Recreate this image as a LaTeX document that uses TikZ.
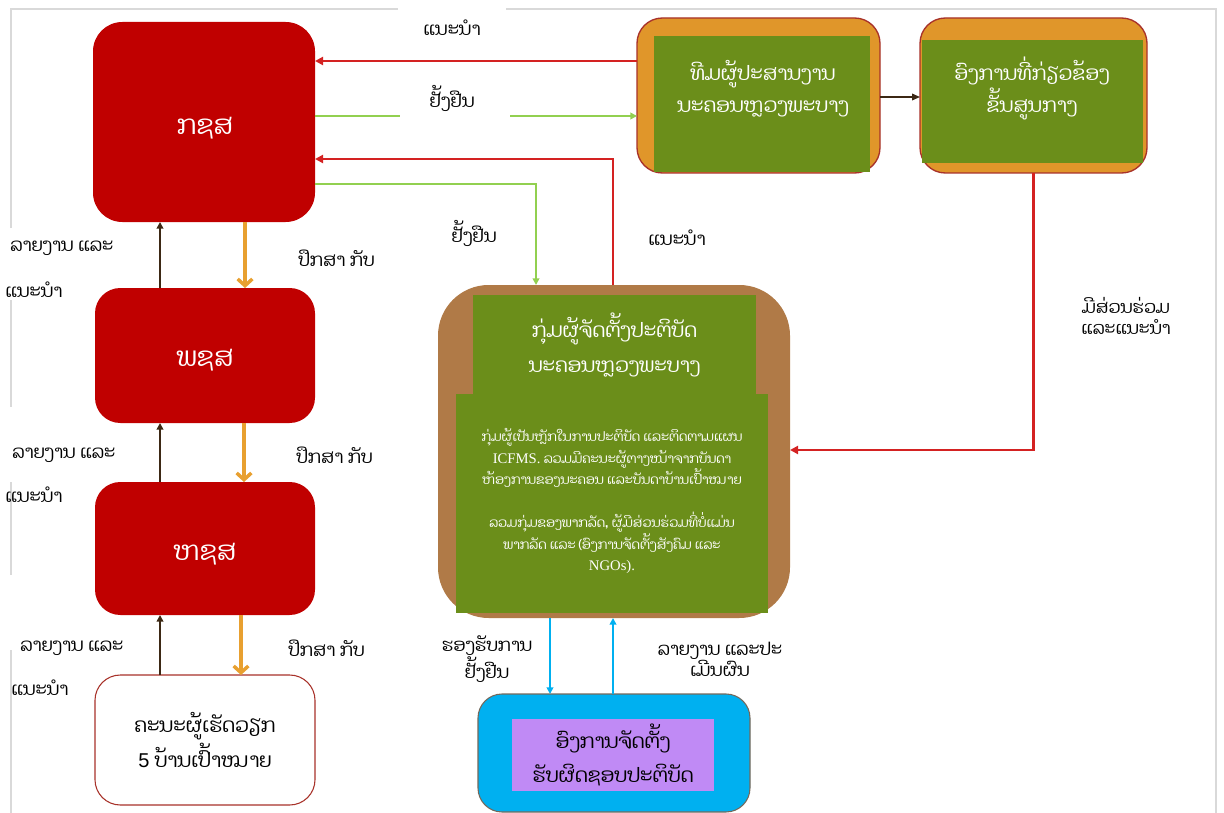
\documentclass[tikz,border=0pt]{standalone}
\usepackage{fontspec}
\usetikzlibrary{arrows.meta}
\setmainfont[Script=Lao]{Dhyana}
\newfontfamily\serifla{Liberation Serif}
\newfontfamily\sansla{Liberation Sans}

\definecolor{boxred}{HTML}{C00000}
\definecolor{linered}{HTML}{D42222}
\definecolor{orangefill}{HTML}{E0962A}
\definecolor{orangeline}{HTML}{E8A030}
\definecolor{leafgreen}{HTML}{6B8E1A}
\definecolor{lightgreen}{HTML}{92D050}
\definecolor{claybrown}{HTML}{B07A47}
\definecolor{darkbrown}{HTML}{3C2814}
\definecolor{skyblue}{HTML}{00B0F0}
\definecolor{lilac}{HTML}{C08AF5}
\definecolor{framegrey}{HTML}{D9D9D9}
\definecolor{darkrim}{HTML}{A8322A}

\begin{document}
\begin{tikzpicture}[x=0.75pt,y=-0.75pt,
  sz/.style 2 args={minimum width=#1*0.75pt, minimum height=#2*0.75pt},
  shape base/.style={rectangle, inner sep=0pt, outer sep=0pt},
  redbox/.style={shape base, fill=boxred, rounded corners=22pt},
  redtext/.style={text=white, inner sep=0pt, font=\fontsize{20}{24}\selectfont},
  orangebox/.style={shape base, fill=orangefill, draw=darkrim, line width=1pt, rounded corners=19pt},
  greenpanel/.style={shape base, fill=leafgreen},
  whitetext/.style={text=white, align=center, inner sep=0pt},
  lbl/.style={font=\fontsize{13.5}{16}\selectfont, text=black, inner sep=0pt, align=center},
  redarrow/.style={draw=linered, line width=1.9pt, -{Triangle[length=6pt,width=6pt]}},
  greenarrow/.style={draw=lightgreen, line width=1.5pt, -{Triangle[length=5pt,width=5pt]}},
  uparrow/.style={draw=darkbrown, line width=1.6pt, -{Triangle[length=5pt,width=5pt]}},
  downarrow/.style={draw=orangeline, line width=2.6pt, -{Straight Barb[length=5pt,width=11pt]}},
  bluearrow/.style={draw=skyblue, line width=1.6pt, -{Triangle[length=5pt,width=5pt]}},
  frameline/.style={draw=framegrey, line width=1.2pt}
]
\useasboundingbox (0,0) rectangle (1224,813);
\fill[white] (0,0) rectangle (1224,813);

% outer frame, broken where labels sit
\draw[frameline] (11,228) -- (11,9) -- (398,9);
\draw[frameline] (506,9) -- (1216,9) -- (1216,813);
\draw[frameline] (11,300) -- (11,407);
\draw[frameline] (11,482) -- (11,575);
\draw[frameline] (11,650) -- (11,813);

% left column
\node[redbox, sz={222}{200}] (kss) at (204,122) {};
\node[redtext] (ksstxt) at (205,128) {ກຊສ};
\node[redbox, sz={220}{135}, rounded corners=19pt] (pss) at (205,355.5) {};
\node[redtext] (psstxt) at (205,360) {ພຊສ};
\node[redbox, sz={220}{133}, rounded corners=19pt] (hss) at (205,548.5) {};
\node[redtext] (hsstxt) at (205,554) {ຫຊສ};
\node[shape base, sz={220}{130}, fill=white, draw=darkrim, line width=0.8pt,
      rounded corners=19pt] (vil) at (205,740) {};
\node[align=center, inner sep=0pt, font=\fontsize{15}{26}\selectfont] (viltxt) at (205,740)
  {ຄະນະຜູ້ເຮັດວຽກ\\{\sansla 5} ບ້ານເປົ້າໝາຍ};

% top right boxes
\node[orangebox, sz={243}{155}] (coord) at (758.5,95.5) {};
\node[greenpanel, sz={216}{136}] (coordin) at (762,104) {};
\node[whitetext, font=\fontsize{15}{24}\selectfont] (coordtxt) at (763,89)
  {ທີມຜູ້ປະສານງານ\\ນະຄອນຫຼວງພະບາງ};
\node[orangebox, sz={227}{155}] (cent) at (1033.5,95.5) {};
\node[greenpanel, sz={221}{123}] (centin) at (1032.5,101.5) {};
\node[whitetext, font=\fontsize{15}{24}\selectfont] (centtxt) at (1032,88)
  {ອົງການທີ່ກ່ຽວຂ້ອງ\\ຂັ້ນສູນກາງ};

% implementing group
\node[shape base, sz={352}{333}, fill=claybrown, rounded corners=38pt] (impl) at (614,451.5) {};
\node[greenpanel, sz={283}{99}] (impltop) at (614.5,344.5) {};
\node[whitetext, font=\fontsize{15}{26}\selectfont] (impltitle) at (614.5,345)
  {ກຸ່ມຜູ້ຈັດຕັ້ງປະຕິບັດ\\ນະຄອນຫຼວງພະບາງ};
\node[greenpanel, sz={312}{219}] (implbody) at (612,503.5) {};
\node[whitetext, font=\fontsize{9.8}{16}\selectfont] (implpara1) at (612,458)
  {ກຸ່ມຜູ້ເປັນຫຼັກໃນການປະຕິບັດ ແລະຕິດຕາມແຜນ\\
   {\serifla\fontsize{11}{16}\selectfont ICFMS.} ລວມມີຄະນະຜູ້ຕາງໜ້າຈາກບັນດາ\\
   ຫ້ອງການຂອງນະຄອນ ແລະບັນດາບ້ານເປົ້າໝາຍ};
\node[whitetext, font=\fontsize{9.8}{16}\selectfont] (implpara2) at (612,543)
  {ລວມກຸ່ມຂອງພາກລັດ, ຜູ້ມີສ່ວນຮ່ວມທີ່ບໍ່ແມ່ນ\\
   ພາກລັດ ແລະ (ອົງການຈັດຕັ້ງສັງຄົມ ແລະ\\
   {\serifla\fontsize{11}{16}\selectfont NGOs).}};

% responsible organisation
\node[shape base, sz={272}{118}, fill=skyblue, draw=darkbrown!70, line width=0.8pt,
      rounded corners=18pt] (resp) at (614,753) {};
\node[shape base, sz={202}{72}, fill=lilac] (respin) at (613,755) {};
\node[align=center, inner sep=0pt, font=\fontsize{15}{25}\selectfont] (resptxt) at (613,755)
  {ອົງການຈັດຕັ້ງ\\ຮັບຜິດຊອບປະຕິບັດ};

% connection points
\coordinate (kssA) at (kss.east |- 0,61);
\coordinate (kssB) at (kss.east |- 0,116);
\coordinate (kssC) at (kss.east |- 0,159);
\coordinate (kssD) at (kss.east |- 0,184);
\coordinate (implR) at (impl.north -| 613,0);
\coordinate (implG) at (impl.north -| 536,0);
\coordinate (implE) at (impl.east |- 0,450);

% flows between the top row and the left column
\draw[redarrow] (coord.west |- kssA) -- (kssA);
\draw[greenarrow] (kssB) -- (coord.west |- kssB);
\fill[white] (400,88) rectangle (510,126);
\draw[redarrow] (implR) |- (kssC);
\draw[greenarrow] (kssD) -| (implG);
\draw[redarrow] (cent.south) |- (implE);
\draw[draw=darkbrown, line width=1pt, -{Triangle[length=6pt,width=5pt]}] (coord.east |- 0,97) -- (cent.west |- 0,97);

% vertical flows in the left column
\draw[uparrow] (pss.north -| 160,0) -- (kss.south -| 160,0);
\draw[downarrow] (kss.south -| 245,0) -- (pss.north -| 245,0);
\draw[uparrow] (hss.north -| 160,0) -- (pss.south -| 160,0);
\draw[downarrow] (pss.south -| 244,0) -- (hss.north -| 244,0);
\draw[uparrow] (vil.north -| 160,0) -- (hss.south -| 160,0);
\draw[downarrow] (hss.south -| 241,0) -- (vil.north -| 241,0);

% flows with the responsible organisation
\draw[bluearrow] (impl.south -| 550,0) -- (resp.north -| 550,0);
\draw[bluearrow] (resp.north -| 613,0) -- (impl.south -| 613,0);

% labels
\node[lbl] (l1) at (452,28) {ແນະນຳ};
\node[lbl] (l2) at (452,98) {ຢັ້ງຢືນ};
\node[lbl] (l3) at (474,233) {ຢັ້ງຢືນ};
\node[lbl] (l4) at (677,238) {ແນະນຳ};
\node[lbl, font=\fontsize{13}{16}\selectfont] (l5) at (1126,316) {ມີສ່ວນຮ່ວມ\\ແລະແນະນຳ};
\node[lbl, font=\fontsize{13.3}{16}\selectfont] (l6) at (487,659) {ຮອງຮັບການ\\ຢັ້ງຢືນ};
\node[lbl, font=\fontsize{13.3}{16}\selectfont] (l7) at (720,659) {ລາຍງານ ແລະປະ\\ເມີນຜົນ};

\node[lbl, anchor=west] (r1a) at (10,248) {ລາຍງານ ແລະ};
\node[lbl, anchor=west] (r1b) at (5,290) {ແນະນຳ};
\node[lbl, anchor=west] (r2a) at (12,455) {ລາຍງານ ແລະ};
\node[lbl, anchor=west] (r2b) at (5,495) {ແນະນຳ};
\node[lbl, anchor=west] (r3a) at (20,648) {ລາຍງານ ແລະ};
\node[lbl, anchor=west] (r3b) at (11,688) {ແນະນຳ};

\node[lbl, anchor=west] (c1) at (298,258) {ປຶກສາ ກັບ};
\node[lbl, anchor=west] (c2) at (296,455) {ປຶກສາ ກັບ};
\node[lbl, anchor=west] (c3) at (288,648) {ປຶກສາ ກັບ};
\end{tikzpicture}
\end{document}
